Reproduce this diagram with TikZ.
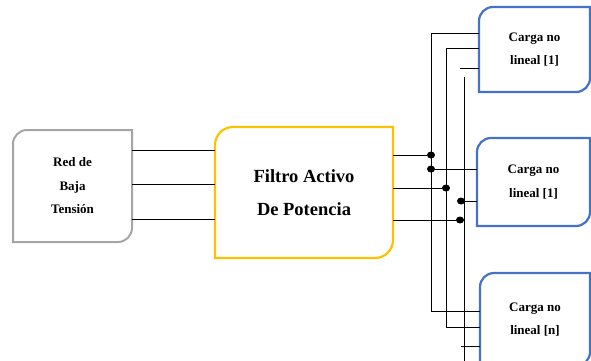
\documentclass[tikz,border=0pt]{standalone}
\usepackage{fontspec}
\setmainfont{Liberation Serif}
\definecolor{netgray}{RGB}{165,165,165}
\definecolor{filteryellow}{RGB}{255,192,0}
\definecolor{loadblue}{RGB}{68,114,196}
\usetikzlibrary{positioning, shapes.geometric}

\begin{document}
\begin{tikzpicture}[
    x=1pt, y=-1pt,
    block/.style={inner sep=0pt, outer sep=0pt, align=center,
                  font=\fontsize{13}{23.5}\selectfont\bfseries},
    bigblock/.style={block, font=\fontsize{18.5}{33}\selectfont\bfseries},
    wire/.style={line width=1pt, black},
    dot/.style={ellipse, fill=black, inner sep=0pt, minimum width=8pt, minimum height=7pt}
  ]
  \useasboundingbox (0,0) rectangle (591,360);

  \node[block, minimum width=119pt, minimum height=112pt] (red) at (72.5,186) {Red de\\Baja\\Tensión};
  \node[bigblock, minimum width=178pt, minimum height=131pt] (filtro) at (304,192.5) {Filtro Activo\\De Potencia};
  \node[block, minimum width=111pt, minimum height=85pt] (load1) at (534.5,49.5) {Carga no\\lineal [1]};
  \node[block, minimum width=113pt, minimum height=88pt] (load2) at (533.5,182) {Carga no\\lineal [1]};
  \node[block, minimum width=110pt, minimum height=93pt] (load3) at (535,319.5) {Carga no\\lineal [n]};

  \draw[line width=2pt, netgray] (red.north) -- (red.north east) -- (red.east) [rounded corners=14pt] -- (red.south east) -- (red.south) [sharp corners] -- (red.south west) -- (red.west) [rounded corners=14pt] -- (red.north west) -- cycle;
  \draw[line width=2.2pt, filteryellow] (filtro.north) -- (filtro.north east) -- (filtro.east) [rounded corners=18pt] -- (filtro.south east) -- (filtro.south) [sharp corners] -- (filtro.south west) -- (filtro.west) [rounded corners=18pt] -- (filtro.north west) -- cycle;
  \draw[line width=2.2pt, loadblue] (load1.north) -- (load1.north east) -- (load1.east) [rounded corners=14pt] -- (load1.south east) -- (load1.south) [sharp corners] -- (load1.south west) -- (load1.west) [rounded corners=14pt] -- (load1.north west) -- cycle;
  \draw[line width=2.2pt, loadblue] (load2.north) -- (load2.north east) -- (load2.east) [rounded corners=14pt] -- (load2.south east) -- (load2.south) [sharp corners] -- (load2.south west) -- (load2.west) [rounded corners=14pt] -- (load2.north west) -- cycle;
  \draw[line width=2.2pt, loadblue] (load3.north) -- (load3.north east) -- (load3.east) [rounded corners=14pt] -- (load3.south east) -- (load3.south) [sharp corners] -- (load3.south west) -- (load3.west) [rounded corners=14pt] -- (load3.north west) -- cycle;

  \draw[wire] (red.east |- 0,150) -- (filtro.west |- 0,150);
  \draw[wire] (red.east |- 0,184) -- (filtro.west |- 0,184);
  \draw[wire] (red.east |- 0,219) -- (filtro.west |- 0,219);

  \coordinate (busA top) at (431,33);
  \coordinate (busA bot) at (431,311);
  \coordinate (busB top) at (446,48);
  \coordinate (busB bot) at (446,327);
  \coordinate (busC top) at (464,77);
  \coordinate (busC bot) at (464,362);
  \coordinate (stub1) at (460,68);
  \coordinate (stub3) at (461,346);

  \draw[wire] (load1.west |- busA top) -- (busA top) -- (busA bot) -- (load3.west |- busA bot);
  \draw[wire] (load1.west |- busB top) -- (busB top) -- (busB bot) -- (load3.west |- busB bot);
  \draw[wire] (busC top) -- (busC bot);
  \draw[wire] (stub1) -- (load1.west |- stub1);
  \draw[wire] (stub3) -- (load3.west |- stub3);

  \node[dot] (d1) at (431,155) {};
  \node[dot] (d2) at (431,169) {};
  \node[dot] (d3) at (446,188) {};
  \node[dot] (d4) at (461,201) {};
  \node[dot] (d5) at (460,220) {};

  \draw[wire] (filtro.east |- d1) -- (d1);
  \draw[wire] (filtro.east |- d3) -- (d3);
  \draw[wire] (filtro.east |- d5) -- (d5);
  \draw[wire] (d2) -- (d2 -| load2.west);
  \draw[wire] (d4) -- (d4 -| load2.west);
\end{tikzpicture}
\end{document}
